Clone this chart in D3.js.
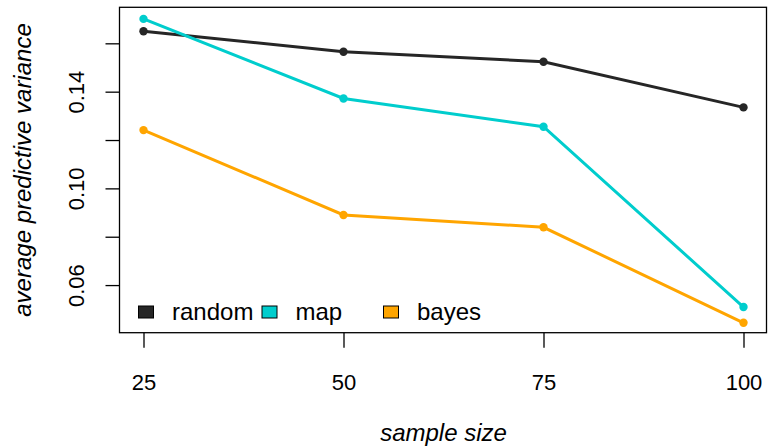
<!DOCTYPE html>
<html><head><meta charset="utf-8">
<script src="https://cdn.jsdelivr.net/npm/d3@7"></script>
<style>body{margin:0;background:#fff}svg{display:block}text{font-family:"Liberation Sans",Arial,sans-serif}</style>
</head><body><svg id="c" width="768" height="447"></svg>
<script>
const sampleSizes = [25, 50, 75, 100];
const random = [0.1650, 0.1565, 0.1524, 0.1335];
const mapVals = [0.1701, 0.1372, 0.1255, 0.0509];
const bayes = [0.1241, 0.0890, 0.0839, 0.0444];
const seriesNames = ["random", "map", "bayes"];
const seriesColors = ["#262626", "#00CDCD", "#FFA500"];
const yTicks = [0.06, 0.08, 0.10, 0.12, 0.14, 0.16];
const yTickLabels = ["0.06", "", "0.10", "", "0.14", ""];
const xTicks = [25, 50, 75, 100];

const svg = d3.select("#c");
const L = 119.5, R = 767.5, T = 7.3, B = 332.7;
const x = d3.scaleLinear().domain([22, 103]).range([L, R]);
const y = d3.scaleLinear().domain([0.0403, 0.1749]).range([B, T]);

const fs = 22, fsT = 24;
// x axis
const xa = svg.append("g").attr("transform", `translate(0,${B})`)
  .call(d3.axisBottom(x).tickValues(xTicks).tickSize(15).tickPadding(27).tickFormat(d3.format("d")));
xa.select(".domain").remove();
xa.selectAll("line").attr("stroke", "#000").attr("stroke-width", 1.3);
xa.selectAll("text").attr("font-size", fs).attr("fill", "#000").attr("dy", "0.71em");

// y axis
const ya = svg.append("g").attr("transform", `translate(${L},0)`)
  .call(d3.axisLeft(y).tickValues(yTicks).tickSize(14).tickFormat((d, i) => yTickLabels[i]));
ya.select(".domain").remove();
ya.selectAll("line").attr("stroke", "#000").attr("stroke-width", 1.3);
ya.selectAll("text").attr("font-size", fs).attr("fill", "#000")
  .attr("x", null).attr("dy", null)
  .attr("text-anchor", "middle")
  .attr("transform", "translate(-36,0) rotate(-90)");

// box
svg.append("rect").attr("x", L).attr("y", T).attr("width", R - L - 1).attr("height", B - T)
  .attr("fill", "none").attr("stroke", "#000").attr("stroke-width", 1.3);

const data = [random, mapVals, bayes];
const line = d3.line().x((d, i) => x(sampleSizes[i])).y(d => y(d));
data.forEach((vals, k) => {
  svg.append("path").datum(vals).attr("d", line).attr("fill", "none")
    .attr("stroke", seriesColors[k]).attr("stroke-width", 3);
  svg.selectAll(null).data(vals).enter().append("circle")
    .attr("cx", (d, i) => x(sampleSizes[i])).attr("cy", d => y(d)).attr("r", 4.2)
    .attr("fill", seriesColors[k]);
});

// legend
const legX = [138.5, 262, 383.5];
seriesNames.forEach((n, k) => {
  svg.append("rect").attr("x", legX[k]).attr("y", 306).attr("width", 15).attr("height", 12)
    .attr("fill", seriesColors[k]).attr("stroke", "#000").attr("stroke-width", 1);
  svg.append("text").attr("x", legX[k] + 33.5).attr("y", 320).attr("font-size", fsT)
    .attr("fill", "#000").text(n);
});

// axis titles
svg.append("text").attr("x", (L + R) / 2).attr("y", 441).attr("text-anchor", "middle")
  .attr("font-size", fsT).attr("font-style", "italic").attr("fill", "#000").text("sample size");
svg.append("text").attr("transform", `translate(31,${(T + B) / 2}) rotate(-90)`)
  .attr("text-anchor", "middle").attr("font-size", fsT).attr("font-style", "italic")
  .attr("fill", "#000").text("average predictive variance");
</script></body></html>
